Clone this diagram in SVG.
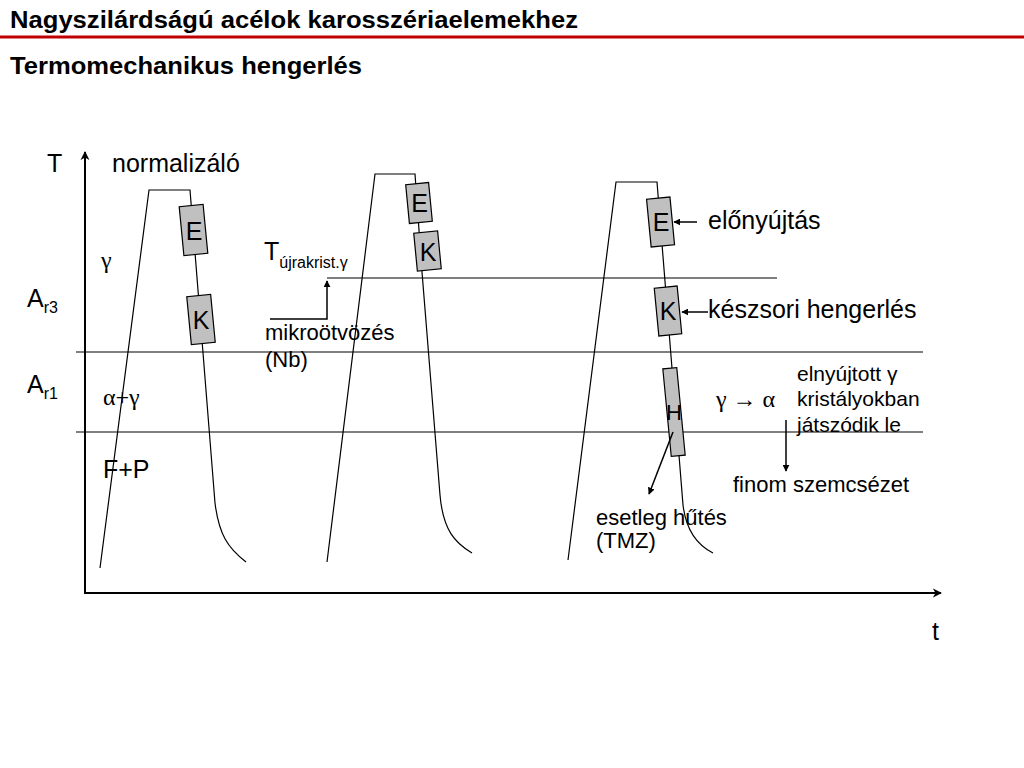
<svg xmlns="http://www.w3.org/2000/svg" width="1024" height="768" viewBox="0 0 1024 768">
<defs>
<style>
.s{font-family:"Liberation Sans",Arial,sans-serif;fill:#000}
.b{font-family:"Liberation Sans",Arial,sans-serif;font-weight:bold;fill:#000}
.g{font-family:"Liberation Serif","Times New Roman",serif;fill:#000}
.ln{stroke:#000;stroke-width:1.2;fill:none}
.box{fill:#c0c0c0;stroke:#000;stroke-width:1.2}
.ax{stroke:#000;stroke-width:2;fill:none}
.ar{stroke:#000;stroke-width:1.5;fill:none;marker-end:url(#ah)}
</style>
<marker id="ah" viewBox="0 0 10 10" refX="9" refY="5" markerWidth="7" markerHeight="7" markerUnits="userSpaceOnUse" orient="auto">
<path d="M0,0 L10,5 L0,10 z" fill="#000"/>
</marker>
<marker id="ahx" viewBox="0 0 10 10" refX="9" refY="5" markerWidth="9" markerHeight="10" markerUnits="userSpaceOnUse" orient="auto">
<path d="M0,0 L10,5 L0,10 L3,5 z" fill="#000"/>
</marker>
</defs>
<rect width="1024" height="768" fill="#fff"/>

<g id="header">
<text class="b" x="10" y="28" font-size="23" textLength="568" lengthAdjust="spacingAndGlyphs">Nagyszilárdságú acélok karosszériaelemekhez</text>
<line x1="0" y1="37" x2="1024" y2="37" stroke="#c00000" stroke-width="3"/>
<text class="b" x="10" y="74" font-size="24" textLength="352" lengthAdjust="spacingAndGlyphs">Termomechanikus hengerlés</text>
</g>

<g id="axes">
<line class="ax" x1="85" y1="594" x2="85" y2="152" marker-end="url(#ahx)"/>
<line class="ax" x1="84" y1="593" x2="941" y2="593" marker-end="url(#ahx)"/>
<text class="s" x="47" y="172" font-size="25">T</text>
<text class="s" x="932" y="640" font-size="25">t</text>
</g>

<g id="levels">
<line x1="76" y1="352" x2="923" y2="352" stroke="#000" stroke-width="1.2"/>
<line x1="76" y1="432" x2="923" y2="432" stroke="#000" stroke-width="1.2"/>
<line x1="327" y1="278" x2="777" y2="278" stroke="#555" stroke-width="1.6"/>
<text class="s" x="27" y="307" font-size="25">A<tspan font-size="16" dy="6">r3</tspan></text>
<text class="s" x="27" y="393" font-size="25">A<tspan font-size="16" dy="6">r1</tspan></text>
<text class="g" x="101" y="268" font-size="24">γ</text>
<text class="g" x="103" y="405" font-size="24">α+γ</text>
<text class="s" x="103" y="478" font-size="25">F+P</text>
<text class="s" x="264" y="260" font-size="25">T<tspan font-size="16" dy="8">újrakrist.γ</tspan></text>
</g>

<g id="curve1">
<path class="ln" d="M100,568 L149,190 L190,190 L215,503 C219,535 228,548 246,562"/>
<g transform="rotate(-5.5 193.5 230)"><rect class="box" x="181.5" y="205.5" width="24" height="49"/></g>
<text class="s" x="194" y="240" font-size="25" text-anchor="middle">E</text>
<g transform="rotate(-5.5 201 319.5)"><rect class="box" x="189" y="295.5" width="24" height="48"/></g>
<text class="s" x="201" y="329" font-size="25" text-anchor="middle">K</text>
<text class="s" x="112" y="172" font-size="25">normalizáló</text>
</g>

<g id="curve2">
<path class="ln" d="M327,562 L375,174 L415,174 L422,272 L440,495 C443,530 455,543 472,553"/>
<g transform="rotate(-5.5 419 203)"><rect class="box" x="407.5" y="183.5" width="23" height="39"/></g>
<text class="s" x="419.5" y="212" font-size="25" text-anchor="middle">E</text>
<g transform="rotate(-5.5 427.5 251)"><rect class="box" x="415.5" y="232" width="24" height="38"/></g>
<text class="s" x="428" y="261" font-size="25" text-anchor="middle">K</text>
<text class="s" x="265" y="340" font-size="22">mikroötvözés</text>
<text class="s" x="265" y="367" font-size="22">(Nb)</text>
</g>

<g id="curve3">
<path class="ln" d="M568,560 L616,182 L657,182 L683,505 C686,530 697,545 713,553"/>
<g transform="rotate(-5.5 660.5 222)"><rect class="box" x="648.8" y="198" width="23.5" height="48"/></g>
<text class="s" x="661" y="231" font-size="25" text-anchor="middle">E</text>
<g transform="rotate(-5.5 668 311)"><rect class="box" x="656.5" y="287" width="23" height="48"/></g>
<text class="s" x="668" y="320" font-size="25" text-anchor="middle">K</text>
<g transform="rotate(-5.5 674 412)"><rect class="box" x="667" y="368" width="14" height="88"/></g>
<text class="s" x="674" y="420" font-size="22" text-anchor="middle">H</text>
<text class="s" x="708" y="229" font-size="25">előnyújtás</text>
<text class="s" x="708" y="318" font-size="25">készsori hengerlés</text>
<text class="g" x="716" y="407" font-size="24">γ → α</text>
<text class="s" x="797" y="381" font-size="21">elnyújtott γ</text>
<text class="s" x="797" y="406" font-size="21">kristályokban</text>
<text class="s" x="797" y="432" font-size="21">játszódik le</text>
<text class="s" x="733" y="492" font-size="22">finom szemcsézet</text>
<text class="s" x="596" y="525" font-size="22">esetleg hűtés</text>
<text class="s" x="596" y="548" font-size="22">(TMZ)</text>
</g>

<g id="connectors">
<path class="ar" d="M270,319 H327 V281"/>
<line class="ar" x1="697" y1="222" x2="674" y2="222"/>
<line class="ar" x1="708" y1="312" x2="682" y2="312"/>
<line class="ar" x1="673" y1="432" x2="649" y2="494"/>
<line class="ar" x1="786" y1="420" x2="786" y2="471"/>
</g>
</svg>
